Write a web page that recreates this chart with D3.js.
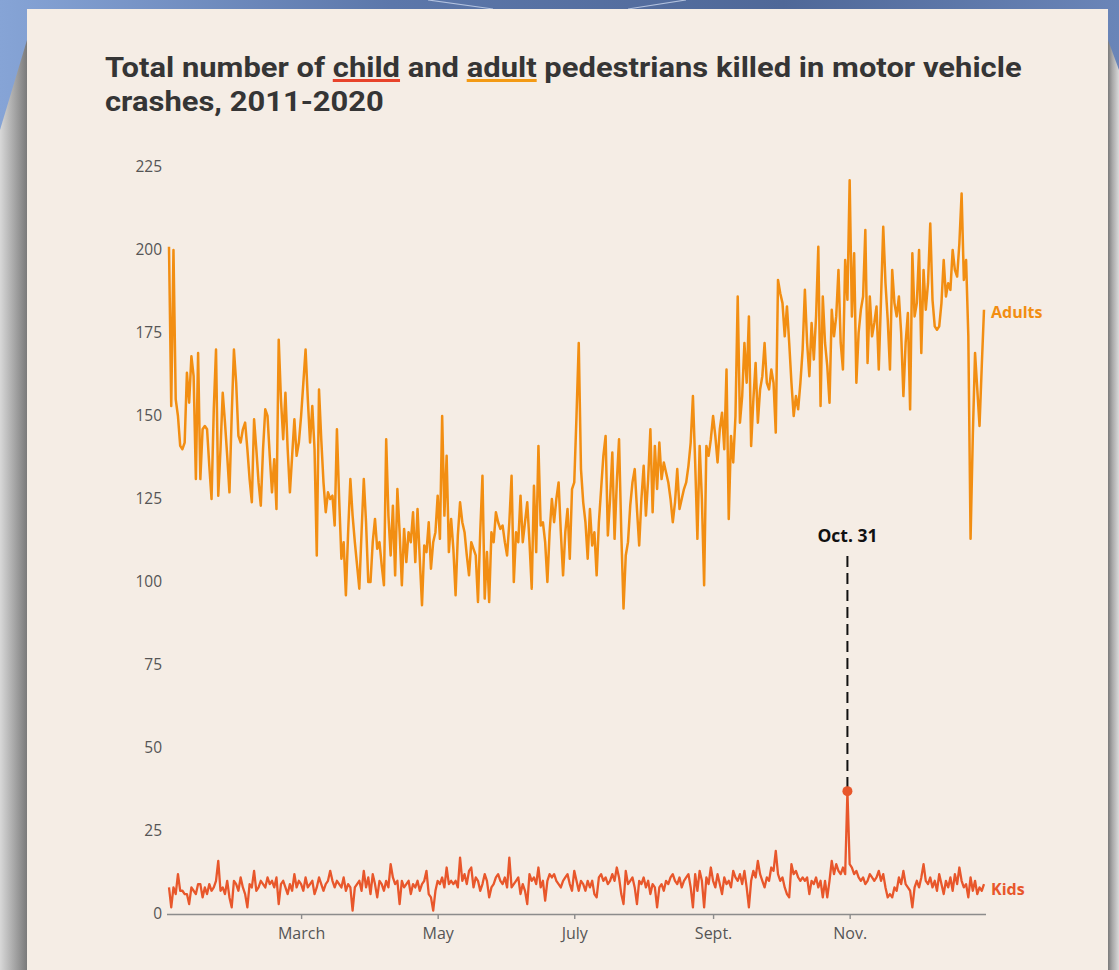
<!DOCTYPE html>
<html><head><meta charset="utf-8">
<script src="https://cdn.jsdelivr.net/npm/d3@7"></script>
<style>body{margin:0;overflow:hidden;background:#5a74a8}</style>
</head><body>
<svg id="c" width="1119" height="970"></svg>
<script>
// Daily totals, Jan 1 .. Dec 31 (365 days), 2011-2020 combined
const adults = [
201,153,200,155,150,141,140,142,163,154,168,162,131,169,131,146,147,146,135,125,152,170,126,140,157,148,138,127,150,170,
160,144,142,146,148,140,131,124,149,140,130,123,140,152,150,138,127,137,122,173,155,143,157,140,127,138,149,138,142,150,
160,170,155,142,153,140,108,158,143,130,121,127,125,126,117,146,125,107,112,96,115,131,120,112,105,98,115,131,118,100,
100,112,119,110,112,105,99,143,120,108,123,102,128,115,99,116,106,115,112,121,106,122,107,93,111,109,118,104,112,115,
126,113,150,120,138,109,119,110,96,114,124,118,115,108,102,112,110,108,94,115,132,95,109,94,115,112,121,118,116,117,
112,108,118,132,100,115,112,126,112,118,124,112,98,129,109,141,117,118,112,100,115,125,118,125,130,115,102,115,122,107,128,
130,150,172,134,124,118,107,122,111,115,102,118,128,138,144,114,125,139,113,130,143,115,92,108,112,123,130,134,122,111,125,135,
120,131,146,121,141,128,142,131,136,133,130,125,118,124,134,122,125,128,130,135,142,156,136,113,141,125,99,141,138,143,150,
144,136,146,151,140,164,119,144,136,150,186,148,156,172,160,180,141,155,166,148,158,162,172,160,158,164,160,145,191,
187,184,174,183,172,160,150,156,152,160,170,188,172,162,178,167,180,201,153,186,172,165,154,182,174,180,194,172,164,197,185,221,
180,199,160,175,182,186,206,166,186,174,178,183,164,185,207,190,179,164,194,184,180,186,175,156,172,181,152,199,180,184,200,
169,194,182,190,208,185,177,176,177,184,197,186,190,188,200,194,192,202,217,191,197,174,113,144,169,158,147,165,182
];
const kids = [
8,2,8,6,12,7,7,6,6,3,8,7,6,9,9,5,8,6,9,7,8,10,16,7,8,6,10,5,2,10,
9,7,11,8,6,2,9,8,13,7,8,10,9,8,11,9,10,8,11,3,9,10,8,6,9,7,12,8,10,9,
7,11,8,9,10,6,8,11,9,7,9,10,13,10,8,10,9,8,11,7,9,8,1,8,9,10,7,13,8,11,
6,12,9,5,10,9,7,10,8,15,11,9,10,3,10,8,9,10,6,9,8,10,7,9,10,13,6,5,1,7,
10,9,11,8,14,9,10,9,10,8,17,10,12,9,13,14,8,11,10,7,9,12,10,5,8,9,11,12,10,9,
11,8,17,8,9,10,11,6,9,7,3,12,10,11,9,14,8,10,4,10,12,11,12,10,9,8,10,11,12,9,7,
13,10,7,10,9,7,10,8,10,6,5,11,12,10,11,9,10,12,10,14,11,6,3,13,9,10,11,8,3,10,
9,11,8,10,6,9,8,2,8,9,7,10,9,11,12,10,9,11,8,10,11,12,8,2,12,7,13,10,2,11,9,14,10,
8,12,9,6,11,9,10,8,13,11,10,12,9,13,8,2,10,13,11,16,12,10,8,11,10,14,13,19,12,10,
11,8,6,5,15,12,13,11,10,11,10,11,6,10,9,11,8,10,5,10,5,10,16,12,15,13,12,14,12,37,
15,14,12,13,11,10,11,9,10,12,11,10,11,13,10,12,8,5,6,5,8,7,11,9,13,9,8,7,2,8,
10,8,11,15,10,9,11,8,10,7,12,9,6,10,8,11,7,12,9,14,10,8,9,5,11,7,10,6,8,7,9
];
const yTicks = [0,25,50,75,100,125,150,175,200,225];
const tickMonths = [2,4,6,8,10];
const tickLabels = ["March","May","July","Sept.","Nov."];
const annotation = {label:"Oct. 31", month:9, day:31};
const titleLine1 = "Total number of child and adult pedestrians killed in motor vehicle";
const titleLine2 = "crashes, 2011-2020";

const YEAR = 2021;
const day0 = new Date(YEAR,0,1);
const dateOf = i => d3.timeDay.offset(day0, i);

const svg = d3.select("#c");
const defs = svg.append("defs");

// ---- frame ----
const bg = defs.append("linearGradient").attr("id","bgG").attr("x1","0").attr("x2","1").attr("y1","0").attr("y2","0");
bg.append("stop").attr("offset","0").attr("stop-color","#86a4d6");
bg.append("stop").attr("offset","0.35").attr("stop-color","#5c77aa");
bg.append("stop").attr("offset","0.7").attr("stop-color","#4f6898");
bg.append("stop").attr("offset","1").attr("stop-color","#6a85b8");
svg.append("rect").attr("width",1119).attr("height",970).attr("fill","url(#bgG)");
const sh = defs.append("linearGradient").attr("id","shL").attr("x1","0").attr("x2","1");
sh.append("stop").attr("offset","0").attr("stop-color","#d8d8d8");
sh.append("stop").attr("offset","0.6").attr("stop-color","#a0a0a0");
sh.append("stop").attr("offset","1").attr("stop-color","#7a7a7a");
const shR = defs.append("linearGradient").attr("id","shR").attr("x1","0").attr("x2","1");
shR.append("stop").attr("offset","0").attr("stop-color","#7a7a7a");
shR.append("stop").attr("offset","0.4").attr("stop-color","#a8a8a8");
shR.append("stop").attr("offset","1").attr("stop-color","#dadada");
svg.append("path").attr("d","M0,130 L27,40 L27,970 L0,970 Z").attr("fill","url(#shL)");
svg.append("path").attr("d","M1119,70 L1108,40 L1108,970 L1119,970 Z").attr("fill","url(#shR)");
svg.append("path").attr("d","M428,0 L493,9 M628,9 L686,0").attr("stroke","#c9d6ee").attr("stroke-width",1.2).attr("fill","none").attr("opacity",0.8);
svg.append("rect").attr("x",27).attr("y",9).attr("width",1081).attr("height",980).attr("fill","#f5ede5");

// ---- title ----
const tg = svg.append("g");
const t1 = tg.append("text").attr("x",0).attr("y",77)
  .attr("font-family","Roboto, 'Open Sans', sans-serif").attr("font-weight",700)
  .attr("font-size",27).attr("fill","#353535").text(titleLine1);
const t2 = tg.append("text").attr("x",0).attr("y",111)
  .attr("font-family","Roboto, 'Open Sans', sans-serif").attr("font-weight",700)
  .attr("font-size",27).attr("fill","#353535").text(titleLine2);
const natW = t1.node().getComputedTextLength();
const sx = 917 / natW;
tg.attr("transform",`translate(105,0) scale(${sx},1)`);
function underline(word, color){
  const idx = titleLine1.indexOf(word);
  const x0 = t1.node().getSubStringLength(0, idx);
  const w = t1.node().getSubStringLength(idx, word.length);
  tg.append("rect").attr("x",x0).attr("y",79).attr("width",w).attr("height",3).attr("fill",color);
}
const cAdult = "#f28e12", cKid = "#e8572b";
underline("child", "#e8432b");
underline("adult", "#f39a14");

// ---- scales ----
const x = d3.scaleTime().domain([day0, new Date(YEAR,11,31)]).range([169,984]);
const y = d3.scaleLinear().domain([0,225]).range([914,167]);

// y labels
const yAx = svg.append("g").attr("transform","translate(167,0)")
  .call(d3.axisLeft(y).tickValues(yTicks).tickSize(0).tickPadding(5));
yAx.select(".domain").remove();
yAx.selectAll("text").attr("font-family","'Open Sans', sans-serif").attr("font-size",15.5).attr("fill","#555");

// x axis
const xAx = svg.append("g").attr("transform","translate(0,914)")
  .call(d3.axisBottom(x).tickValues(tickMonths.map(m=>new Date(YEAR,m,1)))
     .tickFormat((d,i)=>tickLabels[i]).tickSize(5).tickSizeOuter(0).tickPadding(9));
xAx.select(".domain").attr("stroke","#8c8c8c").attr("stroke-width",1.6).attr("d","M167,0.5H986");
xAx.selectAll(".tick line").attr("stroke","#8c8c8c").attr("stroke-width",1.4);
xAx.selectAll("text").attr("font-family","'Open Sans', sans-serif").attr("font-size",16).attr("fill","#555");

// lines
const line = d3.line().x((d,i)=>x(dateOf(i))).y(d=>y(d)).curve(d3.curveLinear);
svg.append("path").datum(adults).attr("d",line).attr("fill","none")
  .attr("stroke",cAdult).attr("stroke-width",2.5).attr("stroke-linejoin","round");
svg.append("path").datum(kids).attr("d",line).attr("fill","none")
  .attr("stroke",cKid).attr("stroke-width",2.3).attr("stroke-linejoin","round");

// series labels
svg.append("text").attr("x",991).attr("y",318).attr("font-family","'Open Sans', sans-serif")
  .attr("font-weight",700).attr("font-size",16).attr("fill",cAdult).text("Adults");
svg.append("text").attr("x",991).attr("y",895).attr("font-family","'Open Sans', sans-serif")
  .attr("font-weight",700).attr("font-size",16).attr("fill",cKid).text("Kids");

// annotation
const aDate = new Date(YEAR, annotation.month, annotation.day);
const aIdx = d3.timeDay.count(day0, aDate);
const ax = x(aDate), ay = y(kids[aIdx]);
svg.append("line").attr("x1",ax).attr("x2",ax).attr("y1",556).attr("y2",ay-4)
  .attr("stroke","#111").attr("stroke-width",2).attr("stroke-dasharray","11,6");
svg.append("circle").attr("cx",ax).attr("cy",ay).attr("r",5).attr("fill",cKid);
svg.append("text").attr("x",ax).attr("y",542).attr("text-anchor","middle")
  .attr("font-family","'Open Sans', sans-serif").attr("font-weight",700).attr("font-size",17.5)
  .attr("fill","#111").text(annotation.label);
</script>
</body></html>
